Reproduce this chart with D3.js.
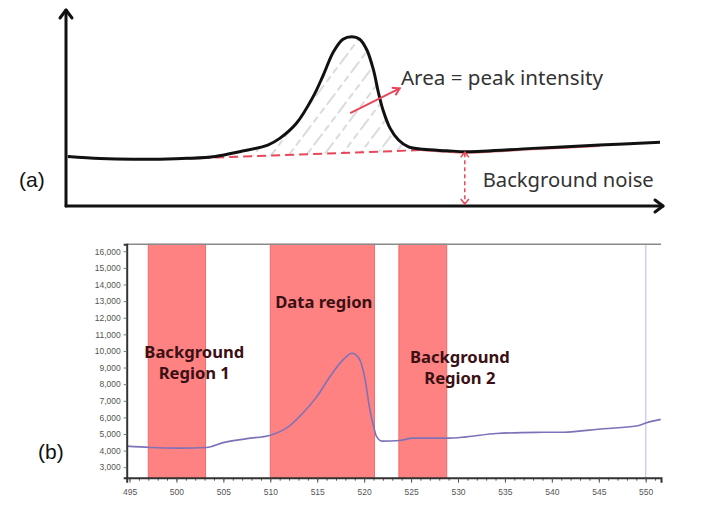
<!DOCTYPE html>
<html>
<head>
<meta charset="utf-8">
<script src="https://cdn.jsdelivr.net/npm/d3@7"></script>
<style>
  body { margin: 0; background: #fff; }
  svg { display: block; }
</style>
</head>
<body>
<div id="chart"></div>
<script>
// (a) schematic peak, arbitrary units
var peakX = [0.3, 5.7, 11.2, 15.7, 20.3, 25.0, 29.1, 33.8, 35.8, 38.6, 41.4, 43.1, 44.8, 46.4, 47.9, 49.2, 50.4, 51.5, 52.3, 53.1, 54.3, 55.7, 57.3, 59.8, 63.8, 67.1, 78.2, 89.4, 99.5];
var peakY = [25.2, 24.2, 23.8, 23.9, 24.3, 25.3, 27.7, 31.1, 34.5, 42.2, 55.8, 66.8, 78.7, 85.1, 86.4, 85.1, 79.6, 69.4, 58.3, 49.0, 39.6, 33.7, 30.3, 28.9, 28.2, 27.7, 29.4, 31.1, 32.5];
var baselineX = [20.3, 60.1];
var baselineY = [24.2, 28.6];
var noiseAt = 66.8;

// (b) measured spectrum
var wavelength = [494.7, 497.2, 500.4, 503.2, 505.0, 507.5, 510.0, 511.8, 513.5, 515.0, 516.4, 517.8, 518.7, 519.4, 520.1, 520.6, 521.0, 521.3, 521.9, 523.8, 525.2, 528.8, 530.9, 534.1, 538.4, 541.2, 545.5, 549.0, 550.1, 551.6];
var counts = [4270, 4190, 4150, 4190, 4480, 4720, 4930, 5380, 6280, 7280, 8490, 9490, 9860, 9600, 8290, 6480, 5480, 4870, 4570, 4610, 4750, 4750, 4830, 5030, 5100, 5110, 5320, 5480, 5680, 5880];
var regionNames = [["Background", "Region 1"], ["Data region"], ["Background", "Region 2"]];
var regionStart = [497.0, 510.0, 523.7];
var regionEnd = [503.1, 521.1, 528.8];
var markerLine = 550;
var xTicks = [495, 500, 505, 510, 515, 520, 525, 530, 535, 540, 545, 550];
var yTicks = [3000, 4000, 5000, 6000, 7000, 8000, 9000, 10000, 11000, 12000, 13000, 14000, 15000, 16000];

var W = 702, H = 512;
var red = "#e8475a";

var svg = d3.select("#chart").append("svg")
  .attr("width", W)
  .attr("height", H);

var defs = svg.append("defs");

// ---------- panel (a) ----------
var xa = d3.scaleLinear().domain([0, 100]).range([66, 663]);
var ya = d3.scaleLinear().domain([0, 100]).range([206, 10]);

var peak = peakX.map(function(x, i) { return [x, peakY[i]]; });
var lineA = d3.line()
  .x(d => xa(d[0]))
  .y(d => ya(d[1]))
  .curve(d3.curveCatmullRom.alpha(0.5));

// hatched area between peak and baseline
var pat = defs.append("pattern")
  .attr("id", "hatch")
  .attr("patternUnits", "userSpaceOnUse")
  .attr("width", 14)
  .attr("height", 40)
  .attr("patternTransform", "rotate(37)");
pat.append("line")
  .attr("x1", 2).attr("y1", 0)
  .attr("x2", 2).attr("y2", 40)
  .attr("stroke", "#bdbdbd")
  .attr("stroke-width", 1.1)
  .attr("stroke-dasharray", "7,4");

var inside = peak.filter(d => d[0] >= baselineX[0] && d[0] <= baselineX[1] - 0.3);
var hatchPoly = inside.concat([[baselineX[1], baselineY[1]], [baselineX[0], baselineY[0]]]);
svg.append("path")
  .attr("d", d3.line().x(d => xa(d[0])).y(d => ya(d[1]))(hatchPoly) + "Z")
  .attr("fill", "url(#hatch)");

// red dashed baseline, continuing under the tail of the curve
svg.append("line")
  .attr("x1", xa(baselineX[0])).attr("y1", ya(baselineY[0]))
  .attr("x2", xa(baselineX[1])).attr("y2", ya(baselineY[1]))
  .attr("stroke", red)
  .attr("stroke-width", 2)
  .attr("stroke-dasharray", "9,5");
svg.append("path")
  .attr("d", lineA(peak.filter(d => d[0] >= 57 && d[0] <= 90)))
  .attr("transform", "translate(0,1)")
  .attr("fill", "none")
  .attr("stroke", red)
  .attr("stroke-width", 2)
  .attr("opacity", 0.7);

// axes with arrows
var axisA = svg.append("g").attr("stroke", "#111").attr("stroke-width", 3).attr("fill", "none")
  .attr("stroke-linecap", "round").attr("stroke-linejoin", "round");
axisA.append("line").attr("x1", xa(0)).attr("y1", ya(0)).attr("x2", xa(0)).attr("y2", ya(100));
axisA.append("line").attr("x1", xa(0)).attr("y1", ya(0)).attr("x2", xa(100)).attr("y2", ya(0));
axisA.append("path").attr("d", `M${xa(0) - 6},${ya(100) + 8}L${xa(0)},${ya(100)}L${xa(0) + 6},${ya(100) + 8}`);
axisA.append("path").attr("d", `M${xa(100) - 8},${ya(0) - 6}L${xa(100)},${ya(0)}L${xa(100) - 8},${ya(0) + 6}`);

// peak curve
svg.append("path")
  .attr("d", lineA(peak))
  .attr("fill", "none")
  .attr("stroke", "#111")
  .attr("stroke-width", 3);

// background noise double arrow
var noiseTop = ya(27.9), noiseBot = ya(0.5), nx = xa(noiseAt);
var na = svg.append("g").attr("stroke", red).attr("stroke-width", 1.5).attr("fill", "none");
na.append("line").attr("x1", nx).attr("y1", noiseTop + 2).attr("x2", nx).attr("y2", noiseBot - 2)
  .attr("stroke-dasharray", "4,3");
na.append("path").attr("d", `M${nx - 4},${noiseTop + 6}L${nx},${noiseTop + 1}L${nx + 4},${noiseTop + 6}`);
na.append("path").attr("d", `M${nx - 4},${noiseBot - 6}L${nx},${noiseBot - 1}L${nx + 4},${noiseBot - 6}`);

// area arrow
var ax1 = xa(47.6), ay1 = ya(47.4), ax2 = xa(55.9), ay2 = ya(60);
svg.append("line")
  .attr("x1", ax1).attr("y1", ay1).attr("x2", ax2).attr("y2", ay2)
  .attr("stroke", red).attr("stroke-width", 2);
var ang = Math.atan2(ay2 - ay1, ax2 - ax1);
function headPt(a) { return [ax2 - 8 * Math.cos(ang + a), ay2 - 8 * Math.sin(ang + a)]; }
svg.append("path")
  .attr("d", "M" + headPt(0.55) + "L" + ax2 + "," + ay2 + "L" + headPt(-0.55))
  .attr("fill", "none").attr("stroke", red).attr("stroke-width", 2);

var labelFont = "'Noto Sans', 'Open Sans', sans-serif";
svg.append("text")
  .attr("x", xa(56.1)).attr("y", ya(61.7))
  .attr("font-family", labelFont).attr("font-size", 20.6).attr("fill", "#333")
  .text("Area = peak intensity");
svg.append("text")
  .attr("x", xa(69.8)).attr("y", ya(9.7))
  .attr("font-family", labelFont).attr("font-size", 20.2).attr("fill", "#333")
  .text("Background noise");

svg.append("text")
  .attr("x", 19).attr("y", 187)
  .attr("font-family", "'Liberation Sans', Arial, sans-serif").attr("font-size", 21).attr("fill", "#111")
  .text("(a)");

// ---------- panel (b) ----------
var xb = d3.scaleLinear().domain([494.7, 551.63]).range([126.7, 661]);
var yb = d3.scaleLinear().domain([2370, 16420]).range([477.7, 244.3]);

var chartB = svg.append("g");

chartB.selectAll("rect.region")
  .data(regionStart)
  .enter()
  .append("rect")
  .attr("class", "region")
  .attr("x", (d, i) => xb(d))
  .attr("y", yb(16420))
  .attr("width", (d, i) => xb(regionEnd[i]) - xb(d))
  .attr("height", yb(2370) - yb(16420))
  .attr("fill", "#ff8282")
  .attr("stroke", "#f26a6a")
  .attr("stroke-width", 1);

chartB.append("line")
  .attr("x1", xb(markerLine)).attr("x2", xb(markerLine))
  .attr("y1", yb(16420)).attr("y2", yb(2370))
  .attr("stroke", "#c9d0f2").attr("stroke-width", 1.5);

// top frame line
chartB.append("line")
  .attr("x1", xb(494.7)).attr("x2", xb(551.63))
  .attr("y1", yb(16420)).attr("y2", yb(16420))
  .attr("stroke", "#8a8a8a").attr("stroke-width", 1.5);

var specLine = d3.line()
  .x((d, i) => xb(d))
  .y((d, i) => yb(counts[i]))
  .curve(d3.curveMonotoneX);
chartB.append("path")
  .attr("d", specLine(wavelength))
  .attr("fill", "none")
  .attr("stroke", "#7d72b8")
  .attr("stroke-width", 1.6);

// region labels
var regionLabelAt = [[501.9, 9955], [515.7, 12965], [530.2, 9654]];
regionNames.forEach(function(lines, i) {
  var t = chartB.append("text")
    .attr("x", xb(regionLabelAt[i][0]))
    .attr("y", yb(regionLabelAt[i][1]))
    .attr("text-anchor", "middle")
    .attr("font-family", labelFont)
    .attr("font-weight", "bold")
    .attr("font-size", 16.6)
    .attr("fill", "#3a1014");
  lines.forEach(function(s, j) {
    t.append("tspan")
      .attr("x", xb(regionLabelAt[i][0]))
      .attr("dy", j === 0 ? "0.35em" : "1.27em")
      .text(s);
  });
});

// axes
var tickFont = "'Liberation Sans', Arial, sans-serif";
var leftAxis = d3.axisLeft(yb).tickValues(yTicks).tickFormat(d3.format(",")).tickSize(3).tickPadding(3);
var gl = chartB.append("g").attr("transform", `translate(${xb(494.7)},0)`).call(leftAxis);
gl.select(".domain").attr("stroke", "#333").attr("stroke-width", 2);
gl.selectAll(".tick line").attr("stroke", "#777");
gl.selectAll(".tick text").attr("font-family", tickFont).attr("font-size", 8.5).attr("fill", "#555");

var minorAxis = d3.axisBottom(xb).tickValues(d3.range(495, 552, 1)).tickSize(3).tickFormat("");
var gm = chartB.append("g").attr("transform", `translate(0,${yb(2370)})`).call(minorAxis);
gm.select(".domain").remove();
gm.selectAll(".tick line").attr("stroke", "#555");

var bottomAxis = d3.axisBottom(xb).tickValues(xTicks).tickSize(5).tickPadding(6);
var gb = chartB.append("g").attr("transform", `translate(0,${yb(2370)})`).call(bottomAxis);
gb.select(".domain").attr("stroke", "#333").attr("stroke-width", 2);
gb.selectAll(".tick line").attr("stroke", "#555");
gb.selectAll(".tick text").attr("font-family", tickFont).attr("font-size", 8.5).attr("fill", "#555");

svg.append("text")
  .attr("x", 38).attr("y", 459)
  .attr("font-family", "'Liberation Sans', Arial, sans-serif").attr("font-size", 21).attr("fill", "#111")
  .text("(b)");
</script>
</body>
</html>
